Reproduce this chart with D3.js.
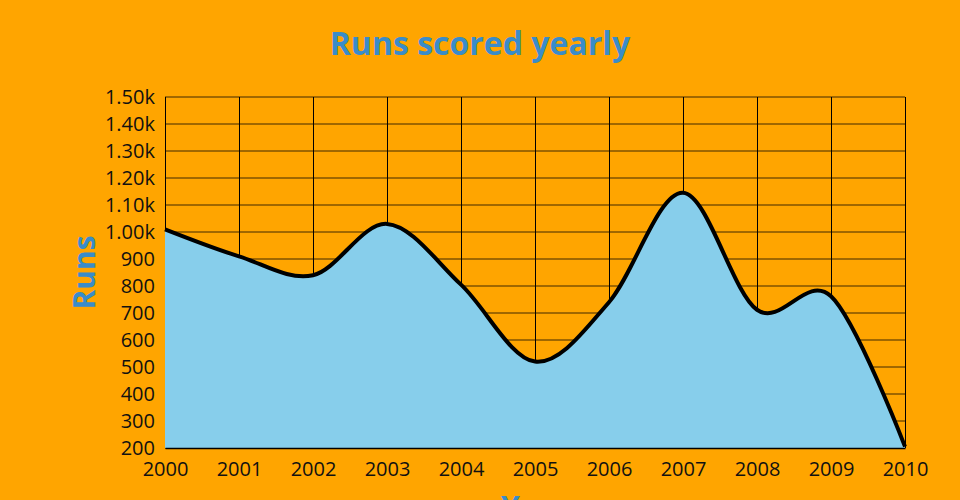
<!DOCTYPE html>
<html><head><meta charset="utf-8">
<script src="https://cdn.jsdelivr.net/npm/d3@7"></script>
<style>
html,body{margin:0;padding:0;background:#FFA500;overflow:hidden;}
svg{display:block;font-family:"Open Sans",sans-serif;}
</style></head>
<body>
<script>
const years = [2000,2001,2002,2003,2004,2005,2006,2007,2008,2009,2010];
const runs = [1010,910,840,1030,805,520,740,1145,712,762,205];
const yTicks = [200,300,400,500,600,700,800,900,1000,1100,1200,1300,1400,1500];
const title = "Runs scored yearly";
const xTitle = "Year";
const yTitle = "Runs";

const W = 960, H = 500;
const m = {top:97, left:165, right:55, bottom:52};
const w = W - m.left - m.right, h = H - m.top - m.bottom;

const svg = d3.select("body").append("svg").attr("width", W).attr("height", H);
svg.append("rect").attr("width", W).attr("height", H).attr("fill", "#FFA500");

const x = d3.scaleLinear().domain([2000, 2010]).range([0, w]);
const y = d3.scaleLinear().domain([200, 1500]).range([h, 0]);

const g = svg.append("g").attr("transform", `translate(${m.left},${m.top})`);

// grid
g.append("g").selectAll("line").data(yTicks).join("line")
  .attr("x1", 0).attr("x2", w)
  .attr("y1", d => y(d)).attr("y2", d => y(d))
  .attr("stroke", "#000").attr("stroke-width", 1).attr("stroke-opacity", 0.75);
g.append("g").selectAll("line").data(years).join("line")
  .attr("x1", d => Math.round(x(d)) + 0.5).attr("x2", d => Math.round(x(d)) + 0.5)
  .attr("y1", 0).attr("y2", h)
  .attr("stroke", "#000").attr("stroke-width", 1);

const data = years.map((yr, i) => ({yr, v: runs[i]}));
const area = d3.area().x(d => x(d.yr)).y0(h).y1(d => y(d.v)).curve(d3.curveCardinal);
const line = d3.line().x(d => x(d.yr)).y(d => y(d.v)).curve(d3.curveCardinal);

g.append("path").datum(data).attr("d", area).attr("fill", "#87CEEB");
g.append("path").datum(data).attr("d", line).attr("fill", "none")
  .attr("stroke", "#000").attr("stroke-width", 4);

// axes
const xAxis = g.append("g").attr("transform", `translate(0,${h})`)
  .call(d3.axisBottom(x).tickValues(years).tickFormat(d3.format("d")).tickSize(0).tickPadding(14));
xAxis.select(".domain").attr("stroke", "#000").attr("stroke-width", 1.5);
xAxis.selectAll("text").attr("font-size", 20).attr("fill", "#111").attr("font-family", "Open Sans");

const yAxis = g.append("g")
  .call(d3.axisLeft(y).tickValues(yTicks).tickFormat(d3.format(".3s")).tickSize(0).tickPadding(10));
yAxis.select(".domain").remove();
yAxis.selectAll("text").attr("font-size", 20).attr("fill", "#111").attr("font-family", "Open Sans");

// titles
svg.append("text").attr("x", 480).attr("y", 55).attr("text-anchor", "middle")
  .attr("font-size", 32).attr("font-weight", "bold").attr("fill", "#3A8CC9").text(title);
svg.append("text").attr("transform", `translate(95,${m.top + h/2}) rotate(-90)`)
  .attr("text-anchor", "middle").attr("font-size", 30).attr("font-weight", "bold")
  .attr("fill", "#3A8CC9").text(yTitle);
svg.append("text").attr("x", m.left + w/2).attr("y", 518).attr("text-anchor", "middle")
  .attr("font-size", 30).attr("font-weight", "bold").attr("fill", "#3A8CC9").text(xTitle);
</script>
</body></html>
